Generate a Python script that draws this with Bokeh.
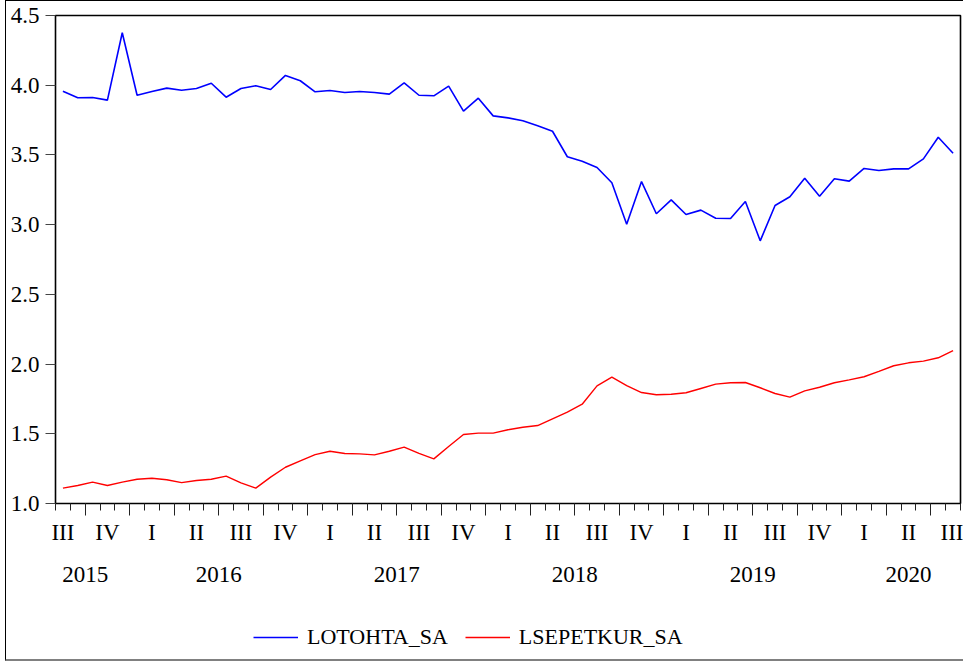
from bokeh.plotting import figure
from bokeh.layouts import column
from bokeh.models import (Range1d, LinearAxis, FixedTicker, Legend, CustomLabelingPolicy,
                          PrintfTickFormatter, ColumnDataSource)
from bokeh.embed import file_html
from bokeh.resources import INLINE

# Monthly observations, index 0 = 2015M07 ... index 60 = 2020M07
month_index = list(range(61))

lotohta_sa = [
    3.957, 3.910, 3.912, 3.893, 4.376, 3.928, 3.955, 3.979, 3.964, 3.976,
    4.014, 3.914, 3.976, 3.996, 3.969, 4.070, 4.032, 3.953, 3.962, 3.948,
    3.955, 3.948, 3.936, 4.017, 3.928, 3.924, 3.993, 3.814, 3.907, 3.780,
    3.766, 3.745, 3.709, 3.670, 3.487, 3.455, 3.410, 3.300, 3.003, 3.309,
    3.078, 3.178, 3.073, 3.104, 3.046, 3.044, 3.166, 2.884, 3.137, 3.200,
    3.333, 3.204, 3.329, 3.312, 3.403, 3.388, 3.400, 3.400, 3.472, 3.627,
    3.512,
]

lsepetkur_sa = [
    1.110, 1.129, 1.153, 1.129, 1.153, 1.174, 1.181, 1.170, 1.150, 1.165,
    1.174, 1.196, 1.148, 1.110, 1.189, 1.260, 1.306, 1.351, 1.375, 1.359,
    1.356, 1.349, 1.375, 1.404, 1.359, 1.320, 1.409, 1.495, 1.505, 1.505,
    1.529, 1.547, 1.559, 1.607, 1.655, 1.712, 1.844, 1.906, 1.846, 1.796,
    1.780, 1.784, 1.794, 1.825, 1.856, 1.866, 1.868, 1.830, 1.789, 1.763,
    1.808, 1.834, 1.866, 1.887, 1.909, 1.947, 1.988, 2.009, 2.021, 2.045,
    2.097,
]

series_names = ["LOTOHTA_SA", "LSEPETKUR_SA"]
series_colors = ["#0000FF", "#FF0000"]

quarter_positions = list(range(0, 61, 3))
quarter_labels = (["III", "IV", "I", "II"] * 6)[:len(quarter_positions)]
year_positions = [1.5, 10.5, 22.5, 34.5, 46.5, 57.0]
year_labels = ["2015", "2016", "2017", "2018", "2019", "2020"]
y_ticks = [1.0, 1.5, 2.0, 2.5, 3.0, 3.5, 4.0, 4.5]
month_boundaries = [m - 0.5 for m in range(62)]
quarter_boundaries = [1.5 + 3 * k for k in range(20)]

FONT = "Liberation Serif"
FS = "23px"

source = ColumnDataSource(dict(x=month_index, lotohta=lotohta_sa, lsepetkur=lsepetkur_sa))

p = figure(frame_width=905, frame_height=488,
           min_border_left=49, min_border_right=3, min_border_top=14, min_border_bottom=100,
           x_range=Range1d(-0.5, 60.5), y_range=Range1d(1.0, 4.5),
           x_axis_location=None, output_backend="svg", toolbar_location=None)

p.grid.visible = False
p.outline_line_color = "black"
p.outline_line_width = 1.6
p.background_fill_color = "white"
p.border_fill_color = "white"

# y axis
ya = p.yaxis[0]
ya.ticker = FixedTicker(ticks=y_ticks)
ya.formatter = PrintfTickFormatter(format="%.1f")
ya.axis_line_color = None
ya.major_tick_out = 10
ya.major_tick_in = 0
ya.major_tick_line_color = "#444444"
ya.minor_tick_line_color = None
ya.major_label_standoff = 6
ya.major_label_text_font = FONT
ya.major_label_text_font_size = FS
ya.major_label_text_color = "black"

# x axis 1: month tick marks (long at quarter separators), no labels
ax_ticks = LinearAxis(ticker=FixedTicker(ticks=quarter_boundaries, minor_ticks=month_boundaries),
                      axis_line_color=None,
                      major_tick_out=12, major_tick_in=0, minor_tick_out=7, minor_tick_in=0,
                      major_tick_line_color="#222222", minor_tick_line_color="#222222",
                      major_label_text_font_size="1px", major_label_standoff=0,
                      major_label_policy=CustomLabelingPolicy(code="return [];"))
# x axis 2: quarter labels
ax_q = LinearAxis(ticker=FixedTicker(ticks=quarter_positions, minor_ticks=[]),
                  major_label_overrides={pos: lab for pos, lab in zip(quarter_positions, quarter_labels)},
                  axis_line_color=None, major_tick_line_color=None, minor_tick_line_color=None,
                  major_tick_out=0, major_tick_in=0, major_label_standoff=0,
                  major_label_text_font=FONT, major_label_text_font_size=FS,
                  major_label_text_color="black")
# x axis 3: year labels
ax_y = LinearAxis(ticker=FixedTicker(ticks=year_positions, minor_ticks=[]),
                  major_label_overrides={pos: lab for pos, lab in zip(year_positions, year_labels)},
                  axis_line_color=None, major_tick_line_color=None, minor_tick_line_color=None,
                  major_tick_out=0, major_tick_in=0, major_label_standoff=19,
                  major_label_text_font=FONT, major_label_text_font_size=FS,
                  major_label_text_color="black")
p.add_layout(ax_ticks, "below")
p.add_layout(ax_q, "below")
p.add_layout(ax_y, "below")

p.line("x", "lotohta", source=source, line_color=series_colors[0], line_width=1.6)
p.line("x", "lsepetkur", source=source, line_color=series_colors[1], line_width=1.4)

# legend strip below the chart (its frame is aligned with the chart frame)
p2 = figure(width=957, height=56, min_border_left=0, min_border_right=0,
            min_border_top=0, min_border_bottom=0,
            x_range=Range1d(-0.5, 60.5), y_range=Range1d(10.0, 11.0),
            x_axis_location=None, y_axis_location=None,
            output_backend="svg", toolbar_location=None)
p2.grid.visible = False
p2.outline_line_color = None
p2.background_fill_color = "white"
p2.border_fill_color = "white"
# same series; they fall outside this strip's range, only their legend keys show
k1 = p2.line("x", "lotohta", source=source, line_color=series_colors[0], line_width=1.6)
k2 = p2.line("x", "lsepetkur", source=source, line_color=series_colors[1], line_width=1.4)

legend = Legend(items=[(series_names[0], [k1]), (series_names[1], [k2])],
                orientation="horizontal", location=(198, 9),
                padding=0, margin=0, spacing=17, glyph_width=45, label_standoff=9,
                border_line_color=None, background_fill_alpha=0,
                label_text_font=FONT, label_text_font_size="22px",
                label_text_font_style="normal", label_text_color="black")
p2.add_layout(legend, "center")

layout = column(p, p2, spacing=0,
                styles={"margin-left": "5px",
                        "border-left": "1px solid #000000",
                        "border-top": "1px solid #000000",
                        "border-bottom": "2px solid #808080"})

open("out.html", "w").write(file_html(layout, INLINE))
